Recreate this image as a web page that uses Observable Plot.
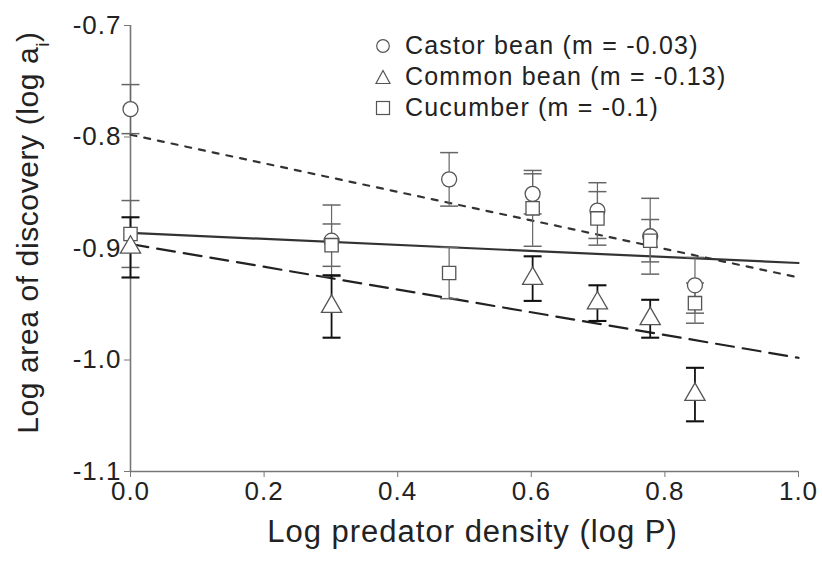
<!DOCTYPE html>
<html>
<head>
<meta charset="utf-8">
<script src="https://cdn.jsdelivr.net/npm/d3@7"></script>
<script src="https://cdn.jsdelivr.net/npm/@observablehq/plot@0.6"></script>
<style>
  html, body { margin: 0; padding: 0; background: #fff; }
  #wrap { position: relative; width: 822px; height: 565px; font-family: "Liberation Sans", Arial, sans-serif; color: #222; }
  #legend { position: absolute; left: 374px; top: 30px; font-size: 25px; letter-spacing: 1.2px; }
  #legend .row { display: flex; align-items: center; height: 31px; white-space: nowrap; }
  #legend svg { width: 18px; height: 18px; margin-right: 13px; }
</style>
</head>
<body>
<div id="wrap"></div>
<script>
// ---- data ----
const castorX   = [0, 0.301, 0.477, 0.602, 0.699, 0.778, 0.845];
const castorY   = [-0.775, -0.893, -0.838, -0.851, -0.866, -0.889, -0.933];
const castorErr = [0.022, 0.032, 0.024, 0.018, 0.025, 0.034, 0.025];

const commonX   = [0, 0.301, 0.602, 0.699, 0.778, 0.845];
const commonY   = [-0.899, -0.952, -0.927, -0.949, -0.963, -1.031];
const commonErr = [0.027, 0.028, 0.020, 0.016, 0.017, 0.024];

const cucumberX   = [0, 0.301, 0.477, 0.602, 0.699, 0.778, 0.845];
const cucumberY   = [-0.887, -0.897, -0.922, -0.864, -0.873, -0.893, -0.949];
const cucumberErr = [0.030, 0.019, 0.023, 0.034, 0.024, 0.019, 0.018];

// regression lines (endpoints at x = 0 and x = 1)
const lineX          = [0, 1];
const solidLineY     = [-0.886, -0.913];
const shortDashLineY = [-0.798, -0.926];
const longDashLineY  = [-0.896, -0.998];

const xTicks = [0, 0.2, 0.4, 0.6, 0.8, 1.0];
const yTicks = [-0.7, -0.8, -0.9, -1.0, -1.1];

const seriesNames = ["Castor bean (m = -0.03)", "Common bean (m = -0.13)", "Cucumber (m = -0.1)"];
const xTitle = "Log predator density (log P)";
const yTitle = "Log area of discovery (log ai)";

// ---- build tables ----
const zip = (xs, ys, es) => xs.map((x, i) => ({x, y: ys[i], e: es[i]}));
const castor = zip(castorX, castorY, castorErr);
const common = zip(commonX, commonY, commonErr);
const cucumber = zip(cucumberX, cucumberY, cucumberErr);
const mkLine = ys => lineX.map((x, i) => ({x, y: ys[i]}));

const capSymbol = {
  draw(context, size) {
    const w = Math.sqrt(size / Math.PI);
    context.moveTo(-w, 0);
    context.lineTo(w, 0);
  }
};

function errMarks(data, stroke, sw) {
  return [
    Plot.ruleX(data, {x: "x", y1: d => d.y - d.e, y2: d => d.y + d.e, stroke, strokeWidth: sw}),
    Plot.dot(data, {x: "x", y: d => d.y + d.e, symbol: capSymbol, r: 9, stroke, strokeWidth: sw + 0.3, fill: "none"}),
    Plot.dot(data, {x: "x", y: d => d.y - d.e, symbol: capSymbol, r: 9, stroke, strokeWidth: sw + 0.3, fill: "none"})
  ];
}

const chart = Plot.plot({
  width: 822,
  height: 565,
  marginLeft: 130,
  marginRight: 24,
  marginTop: 25,
  marginBottom: 94,
  style: {fontFamily: '"Liberation Sans", Arial, sans-serif', color: "#222", background: "#fff", overflow: "visible"},
  x: {domain: [0, 1]},
  y: {domain: [-1.1, -0.7]},
  marks: [
    Plot.axisX({ticks: xTicks, tickFormat: d => d.toFixed(1), tickSize: 6, tickPadding: 4, fontSize: 26, stroke: "#777", label: null, className: "tick-lbl"}),
    Plot.axisY({ticks: yTicks, tickFormat: d => d.toFixed(1), tickSize: 6, tickPadding: 3, fontSize: 26, stroke: "#777", label: null, className: "tick-lbl"}),
    Plot.ruleX([0], {stroke: "#777", strokeWidth: 1.6}),
    Plot.ruleY([-1.1], {stroke: "#777", strokeWidth: 1.6}),
    // regression lines
    Plot.line(mkLine(solidLineY), {x: "x", y: "y", stroke: "#333", strokeWidth: 2.2}),
    Plot.line(mkLine(shortDashLineY), {x: "x", y: "y", stroke: "#333", strokeWidth: 2.2, strokeDasharray: "6,8"}),
    Plot.line(mkLine(longDashLineY), {x: "x", y: "y", stroke: "#222", strokeWidth: 2.2, strokeDasharray: "18,9"}),
    // error bars
    ...errMarks(castor, "#666", 1.2),
    ...errMarks(cucumber, "#666", 1.2),
    ...errMarks(common, "#111", 1.8),
    // markers
    Plot.dot(castor, {x: "x", y: "y", symbol: "circle", r: 7.5, stroke: "#555", strokeWidth: 1.3, fill: "#fff"}),
    Plot.dot(cucumber, {x: "x", y: "y", symbol: "square", r: 7.5, stroke: "#555", strokeWidth: 1.3, fill: "#fff"}),
    Plot.dot(common, {x: "x", y: "y", symbol: "triangle", r: 7.5, stroke: "#555", strokeWidth: 1.3, fill: "#fff"}),
    // axis titles
    Plot.text([xTitle], {text: d => d, frameAnchor: "bottom", textAnchor: "middle", dx: 8, dy: 70, fontSize: 31, fill: "#222", className: "xtitle"}),
    Plot.text([yTitle], {text: d => d, frameAnchor: "left", textAnchor: "middle", rotate: -90, dx: -102, dy: -16, fontSize: 30, fill: "#222", className: "ytitle"})
  ]
});

d3.select(chart).selectAll(".tick-lbl text").attr("letter-spacing", "1");
d3.select(chart).selectAll(".xtitle text").attr("letter-spacing", "1");
d3.select(chart).selectAll(".ytitle text").attr("letter-spacing", "0.6");

// subscript "i" in the y title
d3.select(chart).selectAll(".ytitle text").each(function() {
  const t = d3.select(this);
  const s = t.text();
  if (s.endsWith("ai)")) {
    t.text(s.slice(0, -2));
    t.append("tspan").attr("baseline-shift", "sub").attr("font-size", "19").text("i");
    t.append("tspan").text(")");
  }
});

const wrap = document.getElementById("wrap");
wrap.appendChild(chart);

// legend
const icons = [
  '<circle cx="9" cy="9" r="6.3" fill="#fff" stroke="#555" stroke-width="1.2"/>',
  '<polygon points="9,2.5 16,15.5 2,15.5" fill="#fff" stroke="#555" stroke-width="1.2"/>',
  '<rect x="2.5" y="2.5" width="13" height="13" fill="#fff" stroke="#555" stroke-width="1.2"/>'
];
const legend = document.createElement("div");
legend.id = "legend";
seriesNames.forEach((name, i) => {
  const row = document.createElement("div");
  row.className = "row";
  row.innerHTML = `<svg viewBox="0 0 18 18">${icons[i]}</svg><span></span>`;
  row.querySelector("span").textContent = name;
  legend.appendChild(row);
});
wrap.appendChild(legend);
</script>
</body>
</html>
